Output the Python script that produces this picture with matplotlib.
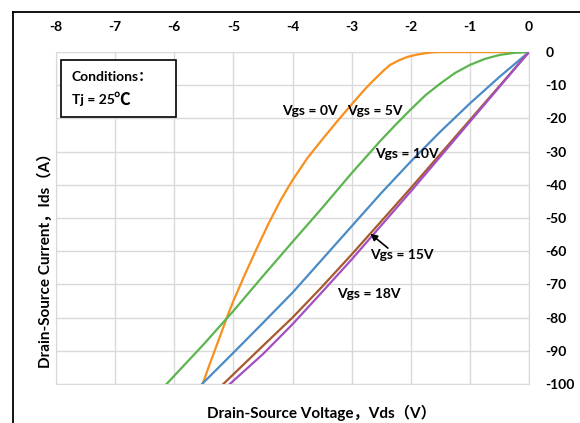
import matplotlib.pyplot as plt
from matplotlib.patches import Rectangle
from matplotlib.lines import Line2D

plt.rcParams['font.family'] = ['Lato', 'Noto Sans CJK SC', 'DejaVu Sans']
plt.rcParams['font.weight'] = 'bold'
plt.rcParams['axes.unicode_minus'] = False

# кривые Ids(Vds) при разных Vgs
vds_0v = [0, -1.5, -1.6, -1.73, -1.9, -2.06, -2.2, -2.35, -2.46, -2.57, -2.69, -2.81,
          -3.0, -3.25, -3.5, -3.75, -4.0, -4.2, -4.4, -4.6, -4.8, -5.0, -5.1, -5.25,
          -5.4, -5.52]
ids_0v = [0, 0, -0.05, -0.3, -0.8, -1.5, -2.5, -3.9, -5.6, -7.5, -9.6, -11.9,
          -15.8, -21, -26.4, -32.0, -38.6, -44.6, -51.5, -59.0, -66.8, -75, -79.5, -86.8,
          -94, -100]

vds_5v = [0, -0.25, -0.5, -0.75, -1.0, -1.25, -1.5, -1.75, -2.0, -2.25, -2.5, -3.0,
          -3.5, -4.0, -4.5, -5.0, -5.5, -6.13]
ids_5v = [0, -0.25, -0.9, -2.1, -3.9, -6.3, -9.5, -13, -17.3, -21.8, -26.5, -36.5,
          -47, -57.2, -67.5, -78, -88, -100]

vds_10v = [0, -0.5, -1.0, -1.5, -2.0, -2.5, -3.0, -3.5, -4.0, -4.5, -5.0, -5.53]
ids_10v = [0, -7.5, -15.5, -24, -33, -42.5, -52.5, -62.5, -72.5, -81.6, -90.6, -100]

vds_15v = [0, -1.0, -2.0, -3.0, -3.5, -4.0, -4.5, -5.17]
ids_15v = [0, -20.5, -41, -61, -70.7, -80, -88.5, -100]

vds_18v = [0, -1.0, -2.0, -3.0, -3.5, -4.0, -4.5, -5.06]
ids_18v = [0, -21, -42, -62.5, -72.3, -82, -91, -100]

curves = [
    (vds_0v, ids_0v, '#f7901e'),
    (vds_5v, ids_5v, '#5cb54f'),
    (vds_10v, ids_10v, '#4a8bc6'),
    (vds_15v, ids_15v, '#a65a2e'),
    (vds_18v, ids_18v, '#a24fc4'),
]

x_ticks = [-8, -7, -6, -5, -4, -3, -2, -1, 0]
y_ticks = [0, -10, -20, -30, -40, -50, -60, -70, -80, -90, -100]

W, H = 580, 423
fig = plt.figure(figsize=(5.8, 4.23), dpi=100)
ax = fig.add_axes([56 / W, 1 - 384 / H, (529 - 56) / W, (384 - 52) / H])

for x, y, c in curves:
    ax.plot(x, y, color=c, lw=1.6, zorder=3)

ax.set_xlim(-8, 0)
ax.set_ylim(-100, 0)
ax.set_xticks(x_ticks)
ax.set_yticks(y_ticks)
ax.xaxis.tick_top()
ax.yaxis.tick_right()
ax.tick_params(length=0, labelsize=10)
ax.tick_params(axis='x', pad=14)
ax.tick_params(axis='y', pad=12)
ax.grid(True, color='#d9d9d9', lw=1)
for s in ax.spines.values():
    s.set_color('#d9d9d9')

# подписи кривых
ax.text(-3.71, -17.8, 'Vgs = 0V', ha='center', va='center', fontsize=10)
ax.text(-2.6, -17.8, 'Vgs = 5V', ha='center', va='center', fontsize=10)
ax.text(-2.07, -30.8, 'Vgs = 10V', ha='center', va='center', fontsize=10)
ax.text(-2.15, -61, 'Vgs = 15V', ha='center', va='center', fontsize=10)
ax.text(-2.71, -72.8, 'Vgs = 18V', ha='center', va='center', fontsize=10)
ax.annotate('', xy=(-2.72, -54.2), xytext=(-2.35, -59.6),
            arrowprops=dict(arrowstyle='-|>', color='black', lw=1.2, mutation_scale=10))

# рамка с условиями
ax.add_patch(Rectangle((-7.92, -19.6), 1.95, 17.2, fill=True, facecolor='white',
                       edgecolor='black', lw=1.2, zorder=4))
ax.text(-7.73, -7.5, 'Conditions：', ha='left', va='center', fontsize=10, zorder=5)
ax.text(-7.73, -14.5, 'Tj = 25', ha='left', va='center', fontsize=10, zorder=5)
ax.text(-7.02, -14.3, '℃', ha='left', va='center', fontsize=12, zorder=5,
        family=['Noto Sans CJK SC', 'DejaVu Sans'])

fig.text(321 / W, 1 - 413 / H, 'Drain-Source Voltage，Vds（V）',
         ha='center', va='center', fontsize=11)
fig.text(45 / W, 1 - 257 / H, 'Drain-Source Current，Ids（A）',
         ha='center', va='center', rotation=90, fontsize=11)

# внешняя рамка
fig.add_artist(Line2D([13 / W, 1], [1 - 12 / H, 1 - 12 / H], color='black', lw=1.3,
                      transform=fig.transFigure))
fig.add_artist(Line2D([13 / W, 13 / W], [0, 1 - 12 / H], color='black', lw=1.3,
                      transform=fig.transFigure))

fig.savefig('out.png', dpi=100)
